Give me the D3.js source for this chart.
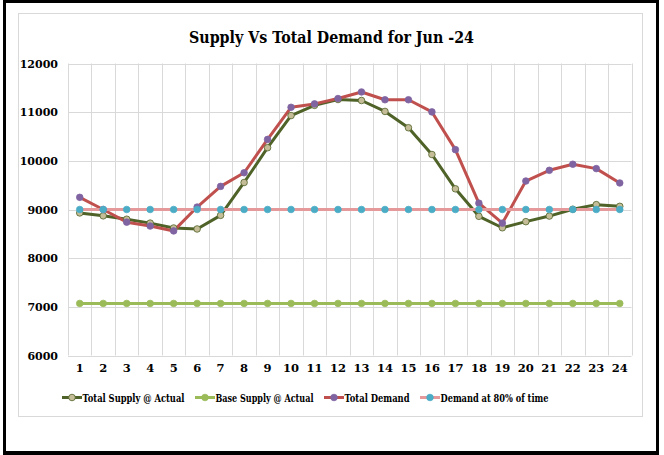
<!DOCTYPE html>
<html><head><meta charset="utf-8">
<script src="https://cdn.jsdelivr.net/npm/d3@7"></script>
<style>body{margin:0;background:#fff}svg{display:block}</style>
</head><body>
<svg id="c" width="664" height="455"></svg>
<script>
const hours = d3.range(1, 25);
const totalSupply = [8930,8870,8800,8720,8620,8600,8880,9555,10270,10930,11140,11260,11240,11015,10680,10130,9425,8860,8625,8750,8865,9005,9100,9065];
const baseSupply = Array(24).fill(7070);
const totalDemand = [9250,9000,8740,8660,8560,9050,9475,9755,10440,11100,11170,11280,11415,11255,11255,11005,10230,9130,8720,9585,9805,9930,9840,9545];
const demand80 = Array(24).fill(9000);
const yTicks = [6000,7000,8000,9000,10000,11000,12000];

const series = [
  {name:"Total Supply @ Actual", values:totalSupply, line:"#4f6228", fill:"#c4bd97", stroke:"#4f6228"},
  {name:"Base Supply @ Actual", values:baseSupply, line:"#9bbb59", fill:"#9bbb59", stroke:"#9bbb59"},
  {name:"Total Demand", values:totalDemand, line:"#c0504d", fill:"#8064a2", stroke:"#8064a2"},
  {name:"Demand at 80% of time", values:demand80, line:"#e6999a", fill:"#4bacc6", stroke:"#4bacc6"}
];

const svg = d3.select("#c");
const font = "'DejaVu Serif', serif";

// outer black frame
svg.append("rect").attr("x",3).attr("y",0).attr("width",656).attr("height",3).attr("fill","#000");
svg.append("rect").attr("x",3).attr("y",0).attr("width",3).attr("height",455).attr("fill","#000");
svg.append("rect").attr("x",656).attr("y",0).attr("width",3).attr("height",455).attr("fill","#000");
svg.append("rect").attr("x",3).attr("y",451).attr("width",656).attr("height",4).attr("fill","#000");

// chart area border
svg.append("rect").attr("x",18.5).attr("y",13.5).attr("width",624).attr("height",403)
  .attr("fill","#fff").attr("stroke","#d9d9d9").attr("stroke-width",1);

const x = d3.scaleBand().domain(hours).range([68, 631.5]).paddingInner(0).paddingOuter(0);
const y = d3.scaleLinear().domain([6000,12000]).range([355.5, 63.5]);
const cx = d => x(d) + x.bandwidth()/2;

// gridlines
const g = svg.append("g");
g.selectAll("line.h").data(yTicks).join("line")
  .attr("x1",68).attr("x2",631.5).attr("y1",d=>Math.round(y(d))+0.5).attr("y2",d=>Math.round(y(d))+0.5)
  .attr("stroke","#d9d9d9").attr("stroke-width",1);
const bounds = hours.map(h=>x(h)).concat([631.5]);
g.selectAll("line.v").data(bounds).join("line")
  .attr("x1",d=>Math.round(d)+0.5).attr("x2",d=>Math.round(d)+0.5).attr("y1",y(12000)).attr("y2",y(6000))
  .attr("stroke","#d9d9d9").attr("stroke-width",1);

// y axis labels
const yAxis = d3.axisLeft(y).tickValues(yTicks).tickSize(0).tickPadding(0).tickFormat(d3.format("d"));
const ya = svg.append("g").attr("transform","translate(58,0)").call(yAxis);
ya.select(".domain").remove();
ya.selectAll("text").attr("font-family",font).attr("font-weight","bold").attr("font-size",11).attr("fill","#000");

// x axis labels
const xAxis = d3.axisBottom(x).tickSize(0).tickPadding(0);
const xa = svg.append("g").attr("transform","translate(0,364)").call(xAxis);
xa.select(".domain").remove();
xa.selectAll("text").attr("font-family",font).attr("font-weight","bold").attr("font-size",11.5).attr("fill","#000");

// lines
const line = d3.line().x((d,i)=>cx(hours[i])).y(d=>y(d));
series.forEach(s=>{
  svg.append("path").attr("d",line(s.values)).attr("fill","none")
    .attr("stroke",s.line).attr("stroke-width",3).attr("stroke-linejoin","round");
});
series.forEach(s=>{
  svg.append("g").selectAll("circle").data(s.values).join("circle")
    .attr("cx",(d,i)=>cx(hours[i])).attr("cy",d=>y(d)).attr("r",3.3)
    .attr("fill",s.fill).attr("stroke",s.stroke).attr("stroke-width",0.8);
});

// title
svg.append("text").attr("x",331.5).attr("y",43).attr("text-anchor","middle")
  .attr("font-family",font).attr("font-weight","bold").attr("font-size",17).attr("fill","#000")
  .attr("textLength",285).attr("lengthAdjust","spacingAndGlyphs")
  .text("Supply Vs Total Demand for Jun -24");

// legend
const legX = [62, 195, 324, 420];
const legW = [102, 98, 65, 108];
const legY = 397.5;
series.forEach((s,i)=>{
  const lg = svg.append("g").attr("transform",`translate(${legX[i]},${legY})`);
  lg.append("line").attr("x1",0).attr("x2",20).attr("y1",0).attr("y2",0).attr("stroke",s.line).attr("stroke-width",3);
  lg.append("circle").attr("cx",10).attr("cy",0).attr("r",3.3).attr("fill",s.fill).attr("stroke",s.stroke).attr("stroke-width",0.8);
  lg.append("text").attr("x",20.5).attr("y",4).attr("font-family",font).attr("font-weight","bold")
    .attr("font-size",11).attr("fill","#000")
    .attr("textLength",legW[i]).attr("lengthAdjust","spacingAndGlyphs").text(s.name);
});
</script>
</body></html>
